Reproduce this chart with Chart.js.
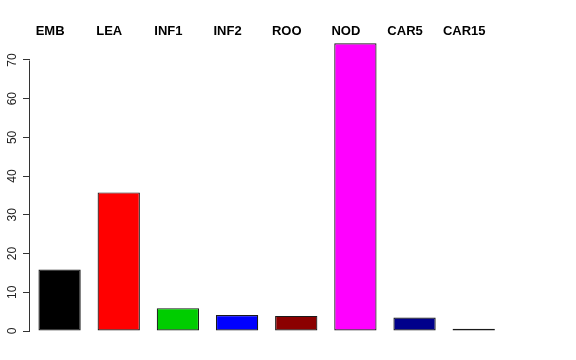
<!DOCTYPE html>
<html>
<head>
<meta charset="utf-8">
<script src="https://cdn.jsdelivr.net/npm/chart.js@4/dist/chart.umd.min.js"></script>
<style>
  html, body { margin: 0; padding: 0; background: #ffffff; }
  canvas { display: block; }
</style>
</head>
<body>
<canvas id="c" width="576" height="360"></canvas>
<script>
const categories = ["EMB", "LEA", "INF1", "INF2", "ROO", "NOD", "CAR5", "CAR15"];
const values = [15.9, 35.8, 5.9, 4.1, 3.9, 74.3, 3.5, 0.6];
const barColors = ["#000000", "#FF0000", "#00CD00", "#0000FF", "#8B0000", "#FF00FF", "#00008B", "#006400"];
const yTicks = [0, 10, 20, 30, 40, 50, 60, 70];

const axisLinePlugin = {
  id: 'axisLine',
  afterDraw(chart) {
    const y = chart.scales.y;
    const ctx = chart.ctx;
    const x = chart.chartArea.left - 0.5;
    ctx.save();
    ctx.strokeStyle = '#333333';
    ctx.lineWidth = 1;
    ctx.beginPath();
    ctx.moveTo(x, Math.round(y.getPixelForValue(yTicks[0])) + 0.5);
    ctx.lineTo(x, Math.round(y.getPixelForValue(yTicks[yTicks.length - 1])) + 0.5);
    ctx.stroke();
    ctx.restore();
  }
};

new Chart(document.getElementById('c'), {
  type: 'bar',
  data: {
    labels: categories,
    datasets: [{
      data: values,
      backgroundColor: barColors,
      borderColor: '#1a1a1a',
      borderWidth: 1.2,
      borderSkipped: false,
      categoryPercentage: 1.0,
      barPercentage: 0.715
    }]
  },
  options: {
    responsive: false,
    animation: false,
    layout: { padding: { top: 20.6, bottom: 29, left: 0, right: 72.7 } },
    plugins: {
      legend: { display: false },
      tooltip: { enabled: false }
    },
    scales: {
      x: {
        position: 'top',
        grid: { display: false, drawTicks: false },
        border: { display: false },
        afterFit: s => { s.height = 20; },
        ticks: {
          color: '#000000',
          font: { family: '"Liberation Sans", Arial, sans-serif', size: 13, weight: 'bold' },
          padding: 1,
          labelOffset: -9.5,
          maxRotation: 0,
          minRotation: 0,
          autoSkip: false
        }
      },
      y: {
        min: 0,
        max: 75,
        afterFit: s => { s.width = 30; },
        afterBuildTicks: s => { s.ticks = yTicks.map(v => ({ value: v })); },
        grid: { drawOnChartArea: false, drawTicks: true, tickLength: 7, color: '#333333' },
        border: { display: false },
        ticks: {
          color: '#222222',
          font: { family: '"Liberation Sans", Arial, sans-serif', size: 12 },
          minRotation: 90,
          maxRotation: 90,
          crossAlign: 'center',
          padding: 4
        }
      }
    }
  },
  plugins: [axisLinePlugin]
});
</script>
</body>
</html>
